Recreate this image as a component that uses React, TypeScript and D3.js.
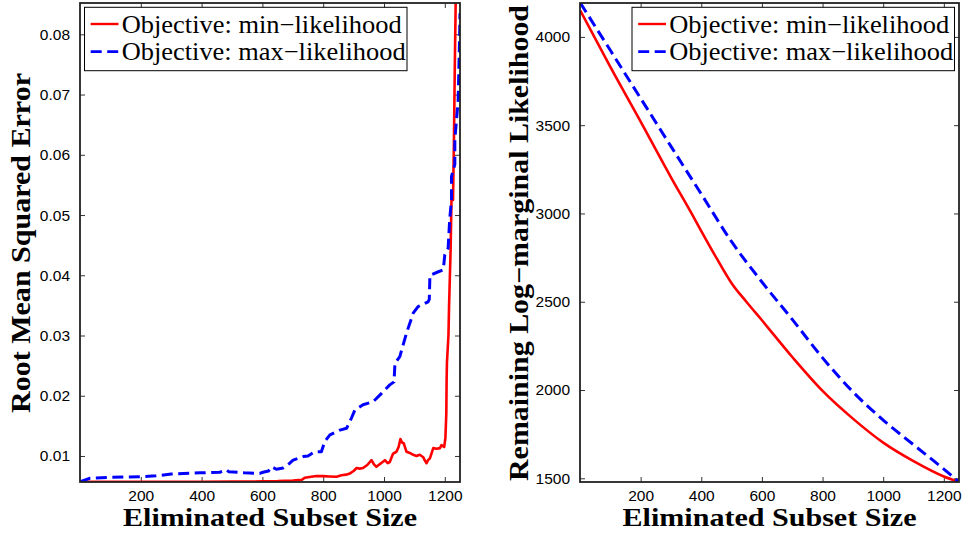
import React, { useEffect, useRef } from 'react';
import * as d3 from 'd3';

// series: [subset size, value]
const rmseMinLik: [number, number][] = [
  [0, 0.0057], [100, 0.0057], [200, 0.0057], [300, 0.00571], [400, 0.00572], [500, 0.00574],
  [600, 0.00578], [650, 0.00582], [700, 0.00592], [730, 0.00605], [740, 0.0064], [760, 0.00655],
  [778, 0.00668], [800, 0.00665], [820, 0.0066], [844, 0.00656], [860, 0.0068], [875, 0.0069],
  [888, 0.0071], [900, 0.0075], [910, 0.008], [920, 0.0079], [931, 0.008], [945, 0.0085],
  [959, 0.0093], [967, 0.0086], [975, 0.0082], [990, 0.0088], [1003, 0.0093], [1012, 0.0088],
  [1019, 0.009], [1030, 0.0104], [1041, 0.0107], [1048, 0.0115], [1054, 0.0128], [1060, 0.0122],
  [1065, 0.0121], [1074, 0.0107], [1085, 0.0105], [1096, 0.0102], [1107, 0.01], [1118, 0.0102],
  [1129, 0.0098], [1135, 0.0092], [1140, 0.0088], [1145, 0.0093], [1151, 0.0096], [1162, 0.0113],
  [1173, 0.0112], [1184, 0.0113], [1189, 0.0118], [1198, 0.0115], [1202, 0.013], [1205, 0.0171],
  [1206, 0.0226], [1207, 0.0254], [1212, 0.03], [1214, 0.0348], [1219, 0.044], [1222, 0.0525],
  [1227, 0.0525], [1230, 0.062], [1233, 0.075], [1236, 0.086],
];

const rmseMaxLik: [number, number][] = [
  [0, 0.0057], [15, 0.006], [33, 0.0063], [100, 0.00645], [197, 0.00656], [250, 0.0067],
  [300, 0.007], [394, 0.0072], [460, 0.0073], [482, 0.0077], [489, 0.0074], [540, 0.0072],
  [591, 0.0071], [602, 0.0073], [620, 0.0075], [630, 0.0082], [646, 0.0078], [668, 0.008],
  [690, 0.0088], [701, 0.0093], [734, 0.0099], [750, 0.01], [772, 0.0107], [794, 0.0107],
  [805, 0.0124], [822, 0.0135], [855, 0.0143], [877, 0.0146], [893, 0.0163], [904, 0.0176],
  [931, 0.0185], [964, 0.019], [992, 0.0204], [1019, 0.0218], [1033, 0.0223], [1036, 0.0254],
  [1052, 0.0265], [1074, 0.0304], [1096, 0.0337], [1112, 0.0348], [1145, 0.0356], [1149, 0.036],
  [1151, 0.04], [1175, 0.0405], [1195, 0.0409], [1200, 0.0434], [1211, 0.0445], [1216, 0.0492],
  [1222, 0.0525], [1222, 0.0564], [1233, 0.0584], [1233, 0.0625], [1244, 0.0691], [1249, 0.0802],
  [1250, 0.0835],
];

const logLikMinLik: [number, number][] = [
  [1, 4149], [100, 3830], [200, 3520], [300, 3205], [368, 3000], [400, 2900], [450, 2748],
  [500, 2605], [550, 2497], [600, 2395], [700, 2187], [800, 1995], [900, 1838], [1000, 1702],
  [1100, 1597], [1200, 1510], [1250, 1479],
];

const logLikMaxLik: [number, number][] = [
  [1, 4192], [100, 3924], [200, 3652], [300, 3380], [400, 3110], [500, 2840], [600, 2612],
  [700, 2400], [800, 2182], [900, 1990], [1000, 1830], [1100, 1690], [1200, 1552], [1250, 1479],
];

const xTicks = [200, 400, 600, 800, 1000, 1200];
const rmseTicks = [0.01, 0.02, 0.03, 0.04, 0.05, 0.06, 0.07, 0.08];
const logLikTicks = [1500, 2000, 2500, 3000, 3500, 4000];
const legendLabels = ['Objective: min\u2212likelihood', 'Objective: max\u2212likelihood'];

const SERIF = '"Liberation Serif", "Times New Roman", serif';
const SANS = '"Liberation Sans", Arial, sans-serif';

type Panel = {
  id: string;
  left: number; right: number; top: number; bottom: number;
  yDomain: [number, number];
  yTicks: number[];
  yFormat: (d: number) => string;
  yLabel: string;
  yLabelX: number;
  yLabelLen: number;
  legendX: number;
  smooth: boolean;
  series: [number, number][][];
};

export default function App() {
  const ref = useRef<SVGSVGElement>(null);

  useEffect(() => {
    const svg = d3.select(ref.current);
    svg.selectAll('*').remove();

    const panels: Panel[] = [
      {
        id: 'rmse', left: 80, right: 460, top: 3, bottom: 482,
        yDomain: [0.00568, 0.0852], yTicks: rmseTicks, yFormat: d3.format('.2f'),
        yLabel: 'Root Mean Squared Error', yLabelX: 30, yLabelLen: 340,
        legendX: 84.5, smooth: false, series: [rmseMinLik, rmseMaxLik],
      },
      {
        id: 'loglik', left: 580, right: 959, top: 3, bottom: 482,
        yDomain: [1479, 4192], yTicks: logLikTicks, yFormat: d3.format('d'),
        yLabel: 'Remaining Log\u2212marginal Likelihood', yLabelX: 528, yLabelLen: 476,
        legendX: 632, smooth: true, series: [logLikMinLik, logLikMaxLik],
      },
    ];

    const styles = [
      { color: '#ff0000', width: 2.6, dash: null as string | null },
      { color: '#0000ff', width: 3, dash: '11,5.5' },
    ];

    panels.forEach(p => {
      const x = d3.scaleLinear().domain([0, 1250]).range([p.left, p.right]);
      const y = d3.scaleLinear().domain(p.yDomain).range([p.bottom, p.top]);
      const g = svg.append('g');

      g.append('clipPath').attr('id', 'clip-' + p.id)
        .append('rect')
        .attr('x', p.left).attr('y', p.top)
        .attr('width', p.right - p.left).attr('height', p.bottom - p.top);

      // ticks point inward on all four sides
      const bottomAxis = d3.axisBottom(x).tickValues(xTicks).tickSize(-5).tickSizeOuter(0)
        .tickPadding(8).tickFormat(d => d3.format('d')(+d));
      const topAxis = d3.axisTop(x).tickValues(xTicks).tickSize(-5).tickSizeOuter(0).tickFormat(() => '');
      const leftAxis = d3.axisLeft(y).tickValues(p.yTicks).tickSize(-5).tickSizeOuter(0)
        .tickPadding(10).tickFormat(d => p.yFormat(+d));
      const rightAxis = d3.axisRight(y).tickValues(p.yTicks).tickSize(-5).tickSizeOuter(0).tickFormat(() => '');

      const ax = [
        g.append('g').attr('transform', `translate(0,${p.bottom})`).call(bottomAxis),
        g.append('g').attr('transform', `translate(0,${p.top})`).call(topAxis),
        g.append('g').attr('transform', `translate(${p.left},0)`).call(leftAxis),
        g.append('g').attr('transform', `translate(${p.right},0)`).call(rightAxis),
      ];
      ax.forEach(a => {
        a.select('.domain').remove();
        a.selectAll('line').attr('stroke', '#333').attr('stroke-width', 1);
        a.selectAll('text').attr('fill', '#000').style('font-family', SANS).style('font-size', '15.5px');
      });

      const line = d3.line<[number, number]>()
        .x(d => x(d[0])).y(d => y(d[1]))
        .curve(p.smooth ? d3.curveMonotoneX : d3.curveLinear);
      p.series.forEach((s, i) => {
        g.append('path')
          .datum(s)
          .attr('clip-path', `url(#clip-${p.id})`)
          .attr('fill', 'none')
          .attr('stroke', styles[i].color)
          .attr('stroke-width', styles[i].width)
          .attr('stroke-linejoin', 'round')
          .attr('stroke-dasharray', styles[i].dash)
          .attr('d', line);
      });

      g.append('rect')
        .attr('x', p.left).attr('y', p.top)
        .attr('width', p.right - p.left).attr('height', p.bottom - p.top)
        .attr('fill', 'none').attr('stroke', '#222').attr('stroke-width', 1.8);

      // legend
      const lg = g.append('g').attr('transform', `translate(${p.legendX},7.3)`);
      lg.append('rect').attr('width', 322.5).attr('height', 63.4)
        .attr('fill', '#fff').attr('stroke', '#000').attr('stroke-width', 1);
      legendLabels.forEach((label, i) => {
        const cy = 16.7 + i * 27.7;
        lg.append('line')
          .attr('x1', 6.2).attr('x2', 34).attr('y1', cy).attr('y2', cy)
          .attr('stroke', styles[i].color).attr('stroke-width', styles[i].width - 0.2)
          .attr('stroke-dasharray', styles[i].dash);
        lg.append('text')
          .attr('x', 37.2).attr('y', cy + 8.8)
          .attr('textLength', i === 0 ? 280 : 284).attr('lengthAdjust', 'spacingAndGlyphs')
          .style('font-family', SERIF).style('font-size', '25px')
          .text(label);
      });

      // axis titles
      g.append('text')
        .attr('x', (p.left + p.right) / 2).attr('y', 525.5)
        .attr('text-anchor', 'middle')
        .attr('textLength', 294).attr('lengthAdjust', 'spacingAndGlyphs')
        .style('font-family', SERIF).style('font-size', '26px').style('font-weight', 'bold')
        .text('Eliminated Subset Size');

      g.append('text')
        .attr('transform', `translate(${p.yLabelX},${(p.top + p.bottom) / 2 + 0.5}) rotate(-90)`)
        .attr('text-anchor', 'middle')
        .attr('textLength', p.yLabelLen).attr('lengthAdjust', 'spacingAndGlyphs')
        .style('font-family', SERIF).style('font-size', '26.5px').style('font-weight', 'bold')
        .text(p.yLabel);
    });
  }, []);

  return (
    <svg ref={ref} width={964} height={535}
      style={{ position: 'absolute', left: 0, top: 0, background: '#fff' }} />
  );
}
